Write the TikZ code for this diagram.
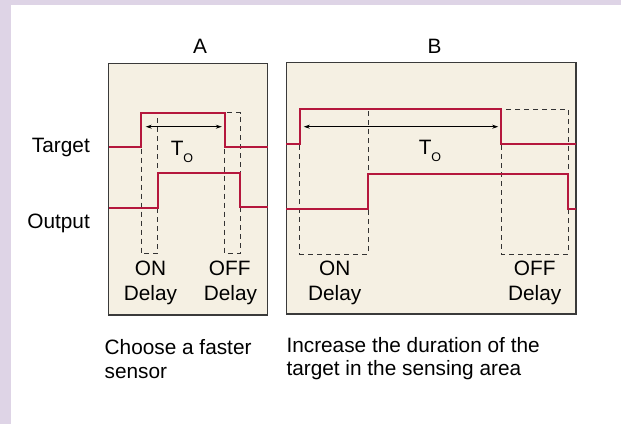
\documentclass[tikz,border=0pt]{standalone}
\usepackage{fontspec}
\setmainfont{Liberation Sans}
\usetikzlibrary{arrows.meta}
\definecolor{panelbg}{HTML}{F5F0E3}
\definecolor{framebg}{HTML}{DED4E6}
\definecolor{signalred}{HTML}{B5173D}
\definecolor{frameline}{HTML}{3A3A3A}
\newcommand{\Tsub}{T\raisebox{-7.5pt}{\fontsize{12.5}{13}\selectfont O}}
\begin{document}
\begin{tikzpicture}[x=1pt,y=-1pt,>={Stealth[length=6pt,width=4pt]},
  panel/.style={draw=frameline,line width=1.5pt,fill=panelbg},
  signal/.style={draw=signalred,line width=2pt},
  window/.style={draw=black!80,line width=0.9pt,dash pattern=on 5pt off 4pt},
  span/.style={<->,line width=0.8pt},
  lbl/.style={font=\fontsize{20.8}{24}\selectfont,inner sep=0pt}]
\useasboundingbox (0,0) rectangle (621,424);
\fill[white] (0,0) rectangle (621,424);
\fill[framebg] (0,0) rectangle (621,5);
\fill[framebg] (0,0) rectangle (11,424);

\node[lbl,anchor=base east] (target) at (90,152.5) {Target};
\node[lbl,anchor=base east] (output) at (90,228) {Output};

% panel A
\draw[panel] (108.5,63.5) rectangle (267.5,315);
\node[lbl,anchor=base] (titleA) at (200,53.3) {A};
\draw[window] (141,112.7) rectangle (157.6,253.3);
\draw[window] (224.5,112.7) rectangle (240.4,253.3);
\draw[signal] (108.5,147) -- (141,147) -- (141,112.7) -- (224.5,112.7)
  -- (224.5,147) -- (267.5,147);
\draw[signal] (108.5,207.7) -- (157.6,207.7) -- (157.6,173.3) -- (240.4,173.3)
  -- (240.4,206.7) -- (267.5,206.7);
\coordinate (spanAl) at (145.7,126.7);
\coordinate (spanAr) at (221.8,126.7);
\draw[span] (spanAl) -- (spanAr);
\node[lbl,anchor=base] (toA) at (182,155) {\Tsub};
\node[lbl,anchor=base] (onA) at (150.5,275) {ON};
\node[lbl,anchor=base] (onDelayA) at (150.5,300) {Delay};
\node[lbl,anchor=base] (offA) at (229.7,275) {OFF};
\node[lbl,anchor=base] (offDelayA) at (230.5,300) {Delay};

% panel B
\draw[panel] (286.3,62.5) rectangle (576.2,314);
\node[lbl,anchor=base] (titleB) at (434.5,53.3) {B};
\draw[window] (299.8,109.3) rectangle (368.3,254);
\draw[window] (501,109.3) rectangle (568.3,254);
\draw[signal] (286.3,144) -- (299.8,144) -- (299.8,109.3) -- (501,109.3)
  -- (501,144) -- (576.2,144);
\draw[signal] (286.3,209) -- (368.3,209) -- (368.3,174) -- (568.3,174)
  -- (568.3,209) -- (576.2,209);
\coordinate (spanBl) at (303.8,126.7);
\coordinate (spanBr) at (498.2,126.7);
\draw[span] (spanBl) -- (spanBr);
\node[lbl,anchor=base] (toB) at (430,154) {\Tsub};
\node[lbl,anchor=base] (onB) at (334.7,275) {ON};
\node[lbl,anchor=base] (onDelayB) at (334.7,300) {Delay};
\node[lbl,anchor=base] (offB) at (534.7,275) {OFF};
\node[lbl,anchor=base] (offDelayB) at (534.7,300) {Delay};

% captions
\node[lbl,anchor=base west] (capA1) at (104.5,354.5) {Choose a faster};
\node[lbl,anchor=base west] (capA2) at (104.5,378) {sensor};
\node[lbl,anchor=base west] (capB1) at (286.3,352) {Increase the duration of the};
\node[lbl,anchor=base west] (capB2) at (286.3,375.5) {target in the sensing area};
\end{tikzpicture}
\end{document}
